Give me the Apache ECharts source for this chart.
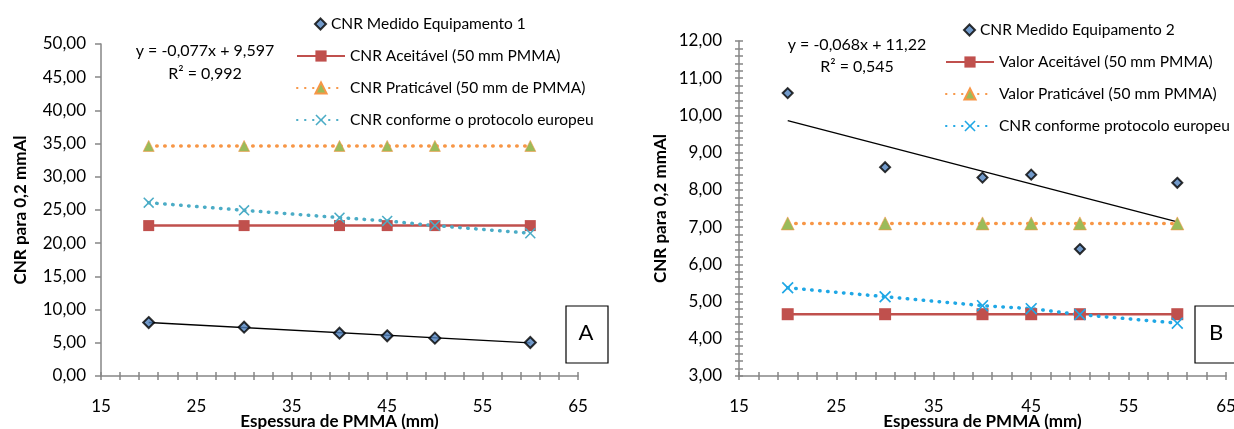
<!DOCTYPE html>
<html>
<head>
<meta charset="utf-8">
<script src="https://cdn.jsdelivr.net/npm/echarts@6/dist/echarts.min.js"></script>
<style>
  html, body { margin: 0; padding: 0; background: #fff; }
  #chart { width: 1234px; height: 429px; }
</style>
</head>
<body>
<div id="chart"></div>
<script>
// espessura de PMMA (mm)
const espessura = [20, 30, 40, 45, 50, 60]

// grafico A
const medidoEq1 = [8.05, 7.35, 6.45, 6.05, 5.70, 5.05]
const aceitavelA = [22.65, 22.65, 22.65, 22.65, 22.65, 22.65]
const praticavelA = [34.65, 34.65, 34.65, 34.65, 34.65, 34.65]
const europeuA = [26.1, 24.95, 23.85, 23.35, 22.65, 21.5]
const trendA = { a: -0.077, b: 9.597 }

// grafico B
const medidoEq2 = [10.60, 8.61, 8.33, 8.41, 6.41, 8.19]
const aceitavelB = [4.66, 4.66, 4.66, 4.66, 4.66, 4.66]
const praticavelB = [7.10, 7.10, 7.10, 7.10, 7.10, 7.10]
const europeuB = [5.37, 5.13, 4.89, 4.81, 4.65, 4.42]
const trendB = { a: -0.068, b: 11.22 }

const FONT = 'Lato'
const AXIS_GRAY = '#868686'

const pairs = (ys) => espessura.map((x, i) => [x, ys[i]])
const trendPts = (t) => [espessura[0], espessura[espessura.length - 1]].map(x => [x, t.a * x + t.b])
const fmt = (v) => v.toFixed(2).replace('.', ',')
const xSymbol = 'path://M0,1L1,0L5,4L9,0L10,1L6,5L10,9L9,10L5,6L1,10L0,9L4,5Z'
const tickStyle = { color: AXIS_GRAY, width: 1.5 }

function xAxisMain(gridIndex) {
    return {
        type: 'value', gridIndex, position: 'bottom', min: 15, max: 65, interval: 10,
        name: 'Espessura de PMMA (mm)', nameLocation: 'middle', nameGap: 37, nameMoveOverlap: false,
        nameTextStyle: { fontFamily: FONT, fontSize: 17, fontWeight: 'bold', color: '#000' },
        axisLine: { lineStyle: tickStyle },
        axisTick: { length: 4, lineStyle: tickStyle },
        minorTick: { show: true, splitNumber: 5, length: 4, lineStyle: tickStyle },
        axisLabel: { fontFamily: FONT, fontSize: 17, color: '#000', margin: 22 },
        splitLine: { show: false }
    }
}
// eixo sobreposto so para os tracos "cruzados" (lado de dentro)
function xAxisInner(gridIndex) {
    return {
        type: 'value', gridIndex, position: 'bottom', min: 15, max: 65, interval: 10,
        axisLine: { show: false },
        axisTick: { inside: true, length: 4, lineStyle: tickStyle },
        minorTick: { show: true, splitNumber: 5, length: 4, lineStyle: tickStyle },
        axisLabel: { show: false },
        splitLine: { show: false }
    }
}

const yName = {
    name: 'CNR para 0,2 mmAl', nameLocation: 'middle',
    nameTextStyle: { fontFamily: FONT, fontSize: 17, fontWeight: 'bold', color: '#000' }
}

const legendText = { fontFamily: FONT, fontSize: 15.5, color: '#000', lineHeight: 16 }

// uma legenda para o marcador isolado, outra para as linhas
function legends(left, top, scatterName, lineNames) {
    return [
        {
            orient: 'vertical', left: left + 18, top, padding: 0, itemWidth: 11, itemHeight: 11,
            itemTextGap: 25, textStyle: legendText, data: [scatterName]
        },
        {
            orient: 'vertical', left, top: top + 32, padding: 0, itemWidth: 48, itemHeight: 14,
            itemGap: 16, itemTextGap: 6, textStyle: legendText, data: lineNames
        }
    ]
}

const options = {
    animation: false,
    grid: [
        { left: 101, top: 44, width: 477, height: 332, outerBoundsMode: 'none' },
        { left: 739, top: 41, width: 487, height: 335, outerBoundsMode: 'none' }
    ],
    xAxis: [xAxisMain(0), xAxisMain(1), xAxisInner(0), xAxisInner(1)],
    yAxis: [
        Object.assign({
            type: 'value', gridIndex: 0, position: 'left', min: 0, max: 50, interval: 5, nameGap: 72,
            axisLine: { show: true, lineStyle: tickStyle },
            axisTick: { show: true, length: 6, lineStyle: tickStyle },
            axisLabel: { fontFamily: FONT, fontSize: 17, color: '#000', margin: 15, formatter: fmt },
            splitLine: { show: false }
        }, yName),
        Object.assign({
            type: 'value', gridIndex: 1, position: 'left', min: 3, max: 12, interval: 1, nameGap: 70,
            axisLine: { show: true, lineStyle: tickStyle },
            axisTick: { show: true, length: 4, lineStyle: tickStyle },
            minorTick: { show: true, splitNumber: 5, length: 4, lineStyle: tickStyle },
            axisLabel: { fontFamily: FONT, fontSize: 17, color: '#000', margin: 17, formatter: fmt },
            splitLine: { show: false }
        }, yName),
        {
            type: 'value', gridIndex: 1, position: 'left', min: 3, max: 12, interval: 1,
            axisLine: { show: false },
            axisTick: { show: true, inside: true, length: 4, lineStyle: tickStyle },
            minorTick: { show: true, splitNumber: 5, length: 4, lineStyle: tickStyle },
            axisLabel: { show: false },
            splitLine: { show: false }
        }
    ],
    legend: [].concat(
        legends(296, 16, 'CNR Medido Equipamento 1', ['CNR Aceitável (50 mm PMMA)',
            'CNR Praticável (50 mm de PMMA)', 'CNR conforme o protocolo europeu']),
        legends(945, 22, 'CNR Medido Equipamento 2', ['Valor Aceitável (50 mm PMMA)',
            'Valor Praticável (50 mm PMMA)', 'CNR conforme protocolo europeu'])
    ),
    series: [
        // ---- A ----
        {
            name: 'trendA', type: 'line', xAxisIndex: 0, yAxisIndex: 0, data: trendPts(trendA),
            showSymbol: false, lineStyle: { color: '#000', width: 1.3 }, z: 1
        },
        {
            name: 'CNR Aceitável (50 mm PMMA)', type: 'line', xAxisIndex: 0, yAxisIndex: 0,
            data: pairs(aceitavelA), symbol: 'rect', symbolSize: 11,
            lineStyle: { color: '#C0504D', width: 2.5 }, itemStyle: { color: '#C0504D' }
        },
        {
            name: 'CNR Praticável (50 mm de PMMA)', type: 'line', xAxisIndex: 0, yAxisIndex: 0,
            data: pairs(praticavelA), symbol: 'triangle', symbolSize: 11,
            lineStyle: { color: '#F79646', width: 3.5, type: [0.5, 7.5], cap: 'round' },
            itemStyle: { color: '#9BBB59', borderColor: '#F79646', borderWidth: 0.6 }
        },
        {
            name: 'CNR conforme o protocolo europeu', type: 'line', xAxisIndex: 0, yAxisIndex: 0,
            data: pairs(europeuA), symbol: xSymbol, symbolSize: 11,
            lineStyle: { color: '#4BACC6', width: 3.5, type: [0.5, 7.5], cap: 'round' },
            itemStyle: { color: '#4BACC6' }
        },
        {
            name: 'CNR Medido Equipamento 1', type: 'scatter', xAxisIndex: 0, yAxisIndex: 0,
            data: pairs(medidoEq1), symbol: 'diamond', symbolSize: 11,
            itemStyle: { color: '#4F81BD', borderColor: '#000', borderWidth: 2 }, z: 5
        },
        // ---- B ----
        {
            name: 'trendB', type: 'line', xAxisIndex: 1, yAxisIndex: 1, data: trendPts(trendB),
            showSymbol: false, lineStyle: { color: '#000', width: 1.3 }, z: 1
        },
        {
            name: 'Valor Aceitável (50 mm PMMA)', type: 'line', xAxisIndex: 1, yAxisIndex: 1,
            data: pairs(aceitavelB), symbol: 'rect', symbolSize: 12,
            lineStyle: { color: '#C0504D', width: 2.5 }, itemStyle: { color: '#C0504D' }
        },
        {
            name: 'Valor Praticável (50 mm PMMA)', type: 'line', xAxisIndex: 1, yAxisIndex: 1,
            data: pairs(praticavelB), symbol: 'triangle', symbolSize: 13,
            lineStyle: { color: '#F79646', width: 3.5, type: [0.5, 7.5], cap: 'round' },
            itemStyle: { color: '#9BBB59', borderColor: '#F79646', borderWidth: 0.6 }
        },
        {
            name: 'CNR conforme protocolo europeu', type: 'line', xAxisIndex: 1, yAxisIndex: 1,
            data: pairs(europeuB), symbol: xSymbol, symbolSize: 12,
            lineStyle: { color: '#1FA7E5', width: 3.5, type: [0.5, 7.5], cap: 'round' },
            itemStyle: { color: '#1FA7E5' }
        },
        {
            name: 'CNR Medido Equipamento 2', type: 'scatter', xAxisIndex: 1, yAxisIndex: 1,
            data: pairs(medidoEq2), symbol: 'diamond', symbolSize: 10,
            itemStyle: { color: '#4F81BD', borderColor: '#000', borderWidth: 2 }, z: 5
        }
    ],
    graphic: [
        {
            type: 'text', x: 205, y: 62, style: {
                text: 'y = -0,077x + 9,597\nR² = 0,992', align: 'center', verticalAlign: 'middle',
                font: '16px Lato', lineHeight: 23, fill: '#000'
            }
        },
        {
            type: 'text', x: 857, y: 56, style: {
                text: 'y = -0,068x + 11,22\nR² = 0,545', align: 'center', verticalAlign: 'middle',
                font: '16px Lato', lineHeight: 22, fill: '#000'
            }
        },
        {
            type: 'rect', shape: { x: 566, y: 306, width: 42, height: 57 },
            style: { fill: '#fff', stroke: '#000', lineWidth: 1.2 }
        },
        {
            type: 'text', x: 586, y: 333, style: {
                text: 'A', align: 'center', verticalAlign: 'middle', font: '22px Lato', fill: '#000'
            }
        },
        {
            type: 'rect', shape: { x: 1195, y: 306, width: 45, height: 57 },
            style: { fill: '#fff', stroke: '#000', lineWidth: 1.2 }
        },
        {
            type: 'text', x: 1216, y: 333, style: {
                text: 'B', align: 'center', verticalAlign: 'middle', font: '22px Lato', fill: '#000'
            }
        }
    ]
}

const chart = echarts.init(document.getElementById('chart'))
chart.setOption(options)
</script>
</body>
</html>
